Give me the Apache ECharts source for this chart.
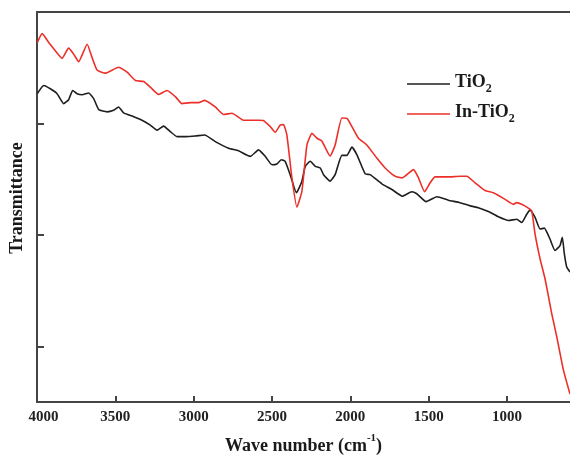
<!DOCTYPE html>
<html>
<head>
<meta charset="utf-8">
<script src="https://cdn.jsdelivr.net/npm/echarts@6/dist/echarts.min.js"></script>
<style>html,body{margin:0;padding:0;background:#fff}#c{width:570px;height:460px}</style>
</head>
<body>
<div id="c"></div>
<script>
// Wave number (cm-1) and transmittance (arbitrary units)
var wnRed = [3998,3967,3925,3883,3840,3798,3766,3734,3680,3649,3617,3564,3479,3425,3372,3319,3277,3224,3170,3117,3075,3022,2969,2930,2862,2809,2756,2682,2586,2556,2511,2480,2448,2427,2405,2373,2341,2309,2277,2245,2213,2182,2129,2097,2054,2020,1990,1948,1895,1831,1778,1714,1669,1597,1565,1526,1491,1459,1376,1300,1257,1204,1140,1087,1012,960,938,906,864,842,821,789,757,715,683,641,598];
var tRed = [3.726,3.806,3.726,3.652,3.584,3.676,3.622,3.554,3.711,3.593,3.48,3.451,3.504,3.46,3.385,3.376,3.326,3.26,3.296,3.24,3.178,3.187,3.187,3.207,3.148,3.08,3.092,3.029,3.029,3.027,2.971,2.92,2.985,2.991,2.896,2.511,2.249,2.393,2.807,2.911,2.867,2.843,2.707,2.807,3.049,3.044,2.971,2.867,2.807,2.689,2.6,2.526,2.511,2.585,2.511,2.387,2.467,2.52,2.52,2.526,2.526,2.467,2.398,2.378,2.318,2.274,2.289,2.274,2.24,2.215,2.007,1.785,1.604,1.296,1.089,0.793,0.571];
var wnBlack = [3998,3957,3915,3872,3830,3798,3772,3744,3712,3670,3638,3606,3553,3511,3479,3447,3383,3330,3277,3234,3192,3149,3106,3054,2990,2930,2862,2777,2714,2639,2586,2543,2500,2469,2441,2416,2384,2344,2309,2288,2256,2224,2192,2171,2129,2097,2054,2022,1990,1958,1905,1874,1799,1735,1668,1608,1576,1516,1448,1374,1300,1236,1183,1119,1055,991,938,906,874,853,821,789,762,726,694,662,647,634,619,598];
var tBlack = [3.267,3.34,3.311,3.267,3.178,3.213,3.296,3.267,3.258,3.273,3.222,3.124,3.104,3.118,3.148,3.095,3.06,3.029,2.985,2.94,2.976,2.926,2.882,2.882,2.887,2.896,2.837,2.778,2.754,2.704,2.763,2.704,2.629,2.636,2.674,2.66,2.54,2.378,2.482,2.615,2.66,2.615,2.6,2.54,2.482,2.54,2.713,2.713,2.787,2.718,2.547,2.54,2.458,2.407,2.347,2.387,2.369,2.298,2.342,2.311,2.289,2.26,2.244,2.209,2.162,2.129,2.14,2.111,2.185,2.222,2.156,2.052,2.06,1.963,1.86,1.904,1.978,1.829,1.711,1.667];
var seriesNames = ['TiO2', 'In-TiO2'];
var xTickValues = [4000,3500,3000,2500,2000,1500,1000];
var yTickValues = [1,2,3];

function zip(a, b) { return a.map(function (v, i) { return [v, b[i]]; }); }

var serif = '"Liberation Serif","Times New Roman",serif';
var chart = echarts.init(document.getElementById('c'), null, {renderer: 'canvas'});
chart.setOption({
  animation: false,
  grid: {left: 37, right: 0, top: 12, bottom: 53},
  legend: {
    orient: 'vertical', left: 402, top: 68,
    itemWidth: 43, itemHeight: 22, itemGap: 8,
    icon: 'path://M0,0L100,0L100,3L0,3Z',
    data: seriesNames,
    formatter: function (n) {
      return n === 'TiO2' ? '{m|TiO}{s|2}' : '{m|In-TiO}{s|2}';
    },
    textStyle: {
      fontFamily: serif, fontWeight: 'bold', fontSize: 18, color: '#1a1a1a', lineHeight: 22,
      rich: {
        m: {fontFamily: serif, fontWeight: 'bold', fontSize: 18, color: '#1a1a1a', verticalAlign: 'top', lineHeight: 22},
        s: {fontFamily: serif, fontWeight: 'bold', fontSize: 12, color: '#1a1a1a', verticalAlign: 'bottom', lineHeight: 12}
      }
    }
  },
  xAxis: [{
    type: 'value', inverse: true, min: 598, max: 4000,
    name: '{n|Wave number (cm}{p|-1}{n|)}',
    nameLocation: 'middle', nameGap: 31,
    nameTextStyle: {
      fontFamily: serif, fontWeight: 'bold', fontSize: 18, color: '#1a1a1a',
      rich: {
        n: {fontFamily: serif, fontWeight: 'bold', fontSize: 18, color: '#1a1a1a', verticalAlign: 'bottom', lineHeight: 22},
        p: {fontFamily: serif, fontWeight: 'bold', fontSize: 11, color: '#1a1a1a', verticalAlign: 'top', lineHeight: 11}
      }
    },
    axisLine: {show: true, lineStyle: {color: '#444', width: 2}},
    axisTick: {show: true, inside: true, length: 6, customValues: xTickValues, lineStyle: {color: '#444', width: 2}},
    axisLabel: {
      customValues: xTickValues, margin: 8,
      fontFamily: serif, fontWeight: 'bold', fontSize: 15, color: '#222',
      formatter: function (v) { return v === 4000 ? '{f|4000}' : String(v); },
      rich: {f: {fontFamily: serif, fontWeight: 'bold', fontSize: 15, color: '#222', padding: [0, 0, 0, 13]}}
    },
    splitLine: {show: false}
  }, {
    type: 'value', inverse: true, min: 598, max: 4000, position: 'top',
    axisLine: {show: true, lineStyle: {color: '#444', width: 2}},
    axisTick: {show: false}, axisLabel: {show: false}, splitLine: {show: false}
  }],
  yAxis: {
    type: 'value', min: 0.5, max: 4,
    name: 'Transmittance', nameLocation: 'middle', nameGap: 11,
    nameTextStyle: {fontFamily: serif, fontWeight: 'bold', fontSize: 18, color: '#1a1a1a', padding: [0, 0, 0, 18]},
    axisLine: {show: true, lineStyle: {color: '#444', width: 2}},
    axisTick: {show: true, inside: true, length: 7, customValues: yTickValues, lineStyle: {color: '#444', width: 2}},
    axisLabel: {show: false},
    splitLine: {show: false}
  },
  series: [{
    name: 'TiO2', type: 'line', xAxisIndex: 0, symbol: 'none', smooth: 0.15,
    lineStyle: {color: '#1e1e1e', width: 1.6}, itemStyle: {color: '#1e1e1e'},
    data: zip(wnBlack, tBlack)
  }, {
    name: 'In-TiO2', type: 'line', xAxisIndex: 0, symbol: 'none', smooth: 0.15,
    lineStyle: {color: '#ec3029', width: 1.6}, itemStyle: {color: '#ec3029'},
    data: zip(wnRed, tRed)
  }]
});
</script>
</body>
</html>
